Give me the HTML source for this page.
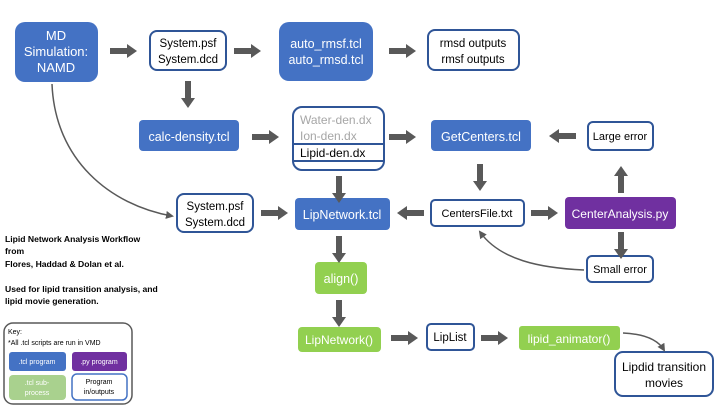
<!DOCTYPE html>
<html><head><meta charset="utf-8"><style>
body{margin:0;background:#fff;}
svg{display:block;font-family:"Liberation Sans",sans-serif;}
</style></head><body>
<svg width="720" height="405" viewBox="0 0 720 405" xmlns="http://www.w3.org/2000/svg">
<defs>
<marker id="ah" markerWidth="8" markerHeight="8" refX="6" refY="4" orient="auto" markerUnits="userSpaceOnUse"><path d="M0,0 L8,4 L0,8 z" fill="#595959"/></marker>
<g id="ar"><rect x="0" y="-3" width="18" height="6" fill="#595959"/><path d="M17,-7 L27,0 L17,7 z" fill="#595959"/></g>
</defs>
<g font-size="11.5" text-anchor="middle">
<rect x="15" y="22" width="83" height="60" rx="10" fill="#4472C4"/>
<text fill="#fff" font-size="13"><tspan x="56" y="40">MD</tspan><tspan x="56" y="56">Simulation:</tspan><tspan x="56" y="72">NAMD</tspan></text>
<rect x="150" y="31" width="76" height="39" rx="7" fill="#fff" stroke="#2F5597" stroke-width="2"/>
<text><tspan x="188" y="47">System.psf</tspan><tspan x="188" y="63">System.dcd</tspan></text>
<rect x="279" y="22" width="94" height="59" rx="10" fill="#4472C4"/>
<text fill="#fff" font-size="12.5"><tspan x="326" y="48">auto_rmsf.tcl</tspan><tspan x="326" y="64">auto_rmsd.tcl</tspan></text>
<rect x="428" y="30" width="91" height="40" rx="7" fill="#fff" stroke="#2F5597" stroke-width="2"/>
<text><tspan x="473" y="47">rmsd outputs</tspan><tspan x="473" y="63">rmsf outputs</tspan></text>
<rect x="139" y="120" width="100" height="31" rx="4" fill="#4472C4"/>
<text x="189" y="141" fill="#fff" font-size="12.5">calc-density.tcl</text>
<rect x="293" y="107" width="91" height="63" rx="9" fill="#fff" stroke="#2F5597" stroke-width="2"/>
<line x1="293" y1="144" x2="384" y2="144" stroke="#2F5597" stroke-width="2"/>
<line x1="293" y1="161" x2="384" y2="161" stroke="#2F5597" stroke-width="2"/>
<text text-anchor="start" font-size="12"><tspan x="300" y="124" fill="#a6a6a6">Water-den.dx</tspan><tspan x="300" y="140" fill="#a6a6a6">Ion-den.dx</tspan><tspan x="300" y="157" fill="#000">Lipid-den.dx</tspan></text>
<rect x="431" y="120" width="100" height="31" rx="4" fill="#4472C4"/>
<text x="481" y="141" fill="#fff" font-size="12.5">GetCenters.tcl</text>
<rect x="588" y="122" width="65" height="28" rx="5" fill="#fff" stroke="#2F5597" stroke-width="2"/>
<text x="620" y="140" font-size="11">Large error</text>
<rect x="177" y="194" width="76" height="38" rx="7" fill="#fff" stroke="#2F5597" stroke-width="2"/>
<text><tspan x="215" y="210">System.psf</tspan><tspan x="215" y="226">System.dcd</tspan></text>
<rect x="295" y="198" width="95" height="32" rx="4" fill="#4472C4"/>
<text x="342" y="219" fill="#fff" font-size="12.5">LipNetwork.tcl</text>
<rect x="431" y="200" width="93" height="26" rx="4" fill="#fff" stroke="#2F5597" stroke-width="2"/>
<text x="477" y="217" font-size="11">CentersFile.txt</text>
<rect x="565" y="197" width="111" height="32" rx="4" fill="#7030A0"/>
<text x="620" y="218" fill="#fff" font-size="12">CenterAnalysis.py</text>
<rect x="587" y="256" width="66" height="26" rx="5" fill="#fff" stroke="#2F5597" stroke-width="2"/>
<text x="620" y="273" font-size="11">Small error</text>
<rect x="315" y="262" width="52" height="32" rx="4" fill="#92D050"/>
<text x="341" y="283" fill="#fff" font-size="12.5">align()</text>
<rect x="298" y="327" width="83" height="25" rx="4" fill="#92D050"/>
<text x="339" y="344" fill="#fff" font-size="12">LipNetwork()</text>
<rect x="427" y="324" width="47" height="26" rx="4" fill="#fff" stroke="#2F5597" stroke-width="2"/>
<text x="450" y="341">LipList</text>
<rect x="519" y="326" width="101" height="24" rx="3" fill="#92D050"/>
<text x="569" y="343" fill="#fff" font-size="12">lipid_animator()</text>
<rect x="615" y="352" width="98" height="44" rx="8" fill="#fff" stroke="#2F5597" stroke-width="2"/>
<text font-size="12"><tspan x="664" y="371">Lipdid transition</tspan><tspan x="664" y="387">movies</tspan></text>
</g>
<use href="#ar" transform="translate(110,51)"/>
<use href="#ar" transform="translate(234,51)"/>
<use href="#ar" transform="translate(389,51)"/>
<use href="#ar" transform="translate(252,137)"/>
<use href="#ar" transform="translate(389,137)"/>
<use href="#ar" transform="translate(576,136) rotate(180)"/>
<use href="#ar" transform="translate(261,213)"/>
<use href="#ar" transform="translate(424,213) rotate(180)"/>
<use href="#ar" transform="translate(531,213)"/>
<use href="#ar" transform="translate(391,338)"/>
<use href="#ar" transform="translate(481,338)"/>
<use href="#ar" transform="translate(188,81) rotate(90)"/>
<use href="#ar" transform="translate(339,176) rotate(90)"/>
<use href="#ar" transform="translate(480,164) rotate(90)"/>
<use href="#ar" transform="translate(339,236) rotate(90)"/>
<use href="#ar" transform="translate(339,300) rotate(90)"/>
<use href="#ar" transform="translate(621,232) rotate(90)"/>
<use href="#ar" transform="translate(621,193) rotate(-90)"/>
<path d="M52,84 C55,160 110,205 172,216" fill="none" stroke="#595959" stroke-width="1.5" marker-end="url(#ah)"/>
<path d="M584,270 C540,268 500,260 480,232" fill="none" stroke="#595959" stroke-width="1.5" marker-end="url(#ah)"/>
<path d="M623,333 C645,334 658,340 664,350" fill="none" stroke="#595959" stroke-width="1.5" marker-end="url(#ah)"/>
<g font-size="8.6" font-weight="bold">
<text x="5" y="242">Lipid Network Analysis Workflow</text>
<text x="5" y="254">from</text>
<text x="5" y="267">Flores, Haddad &amp; Dolan et al.</text>
<text x="5" y="292">Used for lipid transition analysis, and</text>
<text x="5" y="304">lipid movie generation.</text>
</g>
<rect x="4" y="323" width="128" height="81" rx="9" fill="#fff" stroke="#595959" stroke-width="1.5"/>
<g font-size="7">
<text x="8" y="334">Key:</text>
<text x="8" y="345">*All .tcl scripts are run in VMD</text>
<g text-anchor="middle">
<rect x="9" y="352" width="57" height="19" rx="3" fill="#4472C4"/>
<text x="37" y="364" fill="#fff">.tcl program</text>
<rect x="72" y="352" width="55" height="19" rx="3" fill="#7030A0"/>
<text x="99" y="364" fill="#fff">.py program</text>
<rect x="9" y="375" width="57" height="25" rx="4" fill="#A9D18E"/>
<text fill="#fff"><tspan x="37" y="385">.tcl sub-</tspan><tspan x="37" y="395">process</tspan></text>
<rect x="72" y="374" width="55" height="26" rx="5" fill="#fff" stroke="#4472C4" stroke-width="1.5"/>
<text><tspan x="99" y="384">Program</tspan><tspan x="99" y="394">in/outputs</tspan></text>
</g></g>
</svg>
</body></html>
